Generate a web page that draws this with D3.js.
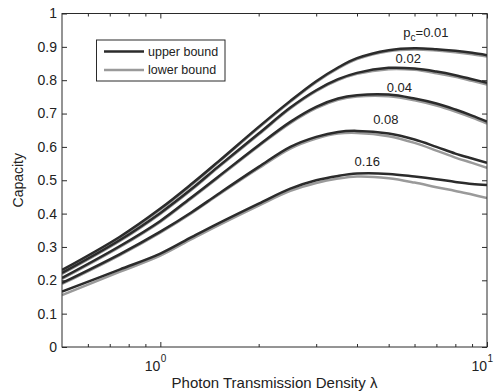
<!DOCTYPE html>
<html><head><meta charset="utf-8">
<script src="https://cdn.jsdelivr.net/npm/d3@7"></script>
<style>body{margin:0;background:#fff;} svg{display:block;font-family:"Liberation Sans",Arial,sans-serif;}</style>
</head><body>
<svg id="c" width="495" height="392"></svg>
<script>
const lambda = [0.5, 0.75, 1, 1.25, 1.5, 2, 2.5, 3, 3.5, 4, 5, 6, 7, 8, 9, 10];
const pcLabels = ["p_c=0.01", "0.02", "0.04", "0.08", "0.16"];
const upper01 = [0.231,0.330,0.415,0.490,0.555,0.660,0.738,0.797,0.838,0.866,0.890,0.896,0.893,0.888,0.882,0.875];
const upper02 = [0.222,0.320,0.402,0.475,0.540,0.640,0.718,0.770,0.803,0.822,0.837,0.835,0.826,0.815,0.803,0.792];
const upper04 = [0.207,0.302,0.378,0.450,0.510,0.605,0.675,0.720,0.745,0.755,0.757,0.745,0.730,0.712,0.694,0.676];
const upper08 = [0.192,0.278,0.346,0.405,0.458,0.540,0.600,0.630,0.645,0.648,0.640,0.622,0.600,0.580,0.565,0.552];
const upper16 = [0.166,0.232,0.280,0.330,0.370,0.430,0.475,0.500,0.513,0.520,0.519,0.511,0.503,0.495,0.489,0.486];
const lower01 = [0.228,0.327,0.412,0.487,0.552,0.657,0.735,0.794,0.835,0.863,0.887,0.892,0.889,0.884,0.878,0.871];
const lower02 = [0.219,0.317,0.399,0.472,0.537,0.637,0.715,0.767,0.800,0.819,0.833,0.831,0.821,0.810,0.798,0.787];
const lower04 = [0.204,0.299,0.375,0.447,0.507,0.602,0.671,0.716,0.741,0.751,0.752,0.740,0.724,0.706,0.688,0.670];
const lower08 = [0.189,0.275,0.343,0.402,0.455,0.536,0.595,0.625,0.640,0.642,0.632,0.612,0.589,0.568,0.552,0.537];
const lower16 = [0.156,0.225,0.274,0.324,0.364,0.424,0.468,0.492,0.505,0.511,0.506,0.493,0.479,0.468,0.457,0.447];
const yTicks = [0,0.1,0.2,0.3,0.4,0.5,0.6,0.7,0.8,0.9,1];
const yTickLabels = ["0","0.1","0.2","0.3","0.4","0.5","0.6","0.7","0.8","0.9","1"];
const xMajor = [1, 10];
const xMajorExp = ["0", "1"];
const xMinor = [0.6,0.7,0.8,0.9,2,3,4,5,6,7,8,9];
const legendItems = ["upper bound", "lower bound"];
// label anchor positions (lambda, capacity)
const labelLambda = [6.5, 5.74, 5.39, 4.9, 4.3];
const labelCap = [0.93, 0.852, 0.765, 0.669, 0.543];

const uppers = [upper01, upper02, upper04, upper08, upper16];
const lowers = [lower01, lower02, lower04, lower08, lower16];

const W = 495, H = 392;
const m = {l: 62, r: 8, t: 13.5, b: 45};
const svg = d3.select("#c");
const x = d3.scaleLog().domain([0.5, 10]).range([m.l, W - m.r]);
const y = d3.scaleLinear().domain([0, 1]).range([H - m.b, m.t]);
const axisCol = "#2a2a2a";
const dark = "#2b2b2b", gray = "#9a9a9a";

svg.append("clipPath").attr("id","cl").append("rect")
  .attr("x", m.l).attr("y", m.t).attr("width", W - m.l - m.r).attr("height", H - m.t - m.b);

const line = d3.line().x((d,i) => x(lambda[i])).y(d => y(d)).curve(d3.curveCatmullRom.alpha(0.5));
const g = svg.append("g").attr("clip-path","url(#cl)");
lowers.forEach(s => g.append("path").attr("d", line(s)).attr("fill","none").attr("stroke", gray).attr("stroke-width", 2.5));
uppers.forEach(s => g.append("path").attr("d", line(s)).attr("fill","none").attr("stroke", dark).attr("stroke-width", 2.5));

// axes box
svg.append("rect").attr("x", m.l).attr("y", m.t).attr("width", W - m.l - m.r).attr("height", H - m.t - m.b)
  .attr("fill","none").attr("stroke", axisCol).attr("stroke-width", 1);

const tl = 5, tlm = 3;
const yL = svg.append("g").attr("transform", `translate(${m.l},0)`)
  .call(d3.axisRight(y).tickValues(yTicks).tickSize(tl).tickFormat(""));
const yR = svg.append("g").attr("transform", `translate(${W - m.r},0)`)
  .call(d3.axisLeft(y).tickValues(yTicks).tickSize(tl).tickFormat(""));
const xB = svg.append("g").attr("transform", `translate(0,${H - m.b})`)
  .call(d3.axisTop(x).tickValues(xMajor).tickSize(tl).tickFormat(""));
const xBm = svg.append("g").attr("transform", `translate(0,${H - m.b})`)
  .call(d3.axisTop(x).tickValues(xMinor).tickSize(tlm).tickFormat(""));
const xT = svg.append("g").attr("transform", `translate(0,${m.t})`)
  .call(d3.axisBottom(x).tickValues(xMajor).tickSize(tl).tickFormat(""));
const xTm = svg.append("g").attr("transform", `translate(0,${m.t})`)
  .call(d3.axisBottom(x).tickValues(xMinor).tickSize(tlm).tickFormat(""));
[yL,yR,xB,xBm,xT,xTm].forEach(a => { a.select(".domain").remove(); a.selectAll("line").attr("stroke", axisCol); });

// y tick labels
svg.append("g").selectAll("text").data(yTicks).join("text")
  .attr("x", m.l - 5).attr("y", d => y(d)).attr("dy","0.35em")
  .attr("text-anchor","end").attr("font-size", 14).attr("fill","#222")
  .text((d,i) => yTickLabels[i]);
// x tick labels 10^n
const xl = svg.append("g").selectAll("g").data(xMajor).join("g");
xl.append("text").attr("x", d => x(d)).attr("y", H - m.b + 24)
  .attr("text-anchor","end").attr("font-size", 14).attr("fill","#222").text("10");
xl.append("text").attr("x", d => x(d) + 0.5).attr("y", H - m.b + 15)
  .attr("text-anchor","start").attr("font-size", 10).attr("fill","#222").text((d,i) => xMajorExp[i]);

// axis titles
svg.append("text").attr("x", (m.l + W - m.r)/2).attr("y", H - 4)
  .attr("text-anchor","middle").attr("font-size", 15).attr("fill","#222").text("Photon Transmission Density λ");
svg.append("text").attr("transform", `translate(23,${(m.t + H - m.b)/2}) rotate(-90)`)
  .attr("text-anchor","middle").attr("font-size", 14).attr("fill","#222").text("Capacity");

// curve labels
pcLabels.forEach((t,i) => {
  const tx = svg.append("text").attr("x", x(labelLambda[i])).attr("y", y(labelCap[i]))
    .attr("text-anchor","middle").attr("font-size", 13).attr("fill","#222");
  if (t.startsWith("p_c")) {
    tx.append("tspan").text("p");
    tx.append("tspan").attr("font-size", 10).attr("dy", 4).text("c");
    tx.append("tspan").attr("dy", -4).text(t.slice(3));
  } else tx.text(t);
});

// legend
const lg = svg.append("g");
lg.append("rect").attr("x", 96.5).attr("y", 40).attr("width", 128.5).attr("height", 41)
  .attr("fill","#fff").attr("stroke", axisCol).attr("stroke-width", 1);
legendItems.forEach((t,i) => {
  const yy = 51.5 + i*18.5;
  lg.append("line").attr("x1", 104).attr("x2", 144).attr("y1", yy).attr("y2", yy)
    .attr("stroke", i === 0 ? dark : gray).attr("stroke-width", 2.5);
  lg.append("text").attr("x", 148).attr("y", yy).attr("dy","0.35em")
    .attr("font-size", 12.5).attr("fill","#222").text(t);
});
</script>
</body></html>
